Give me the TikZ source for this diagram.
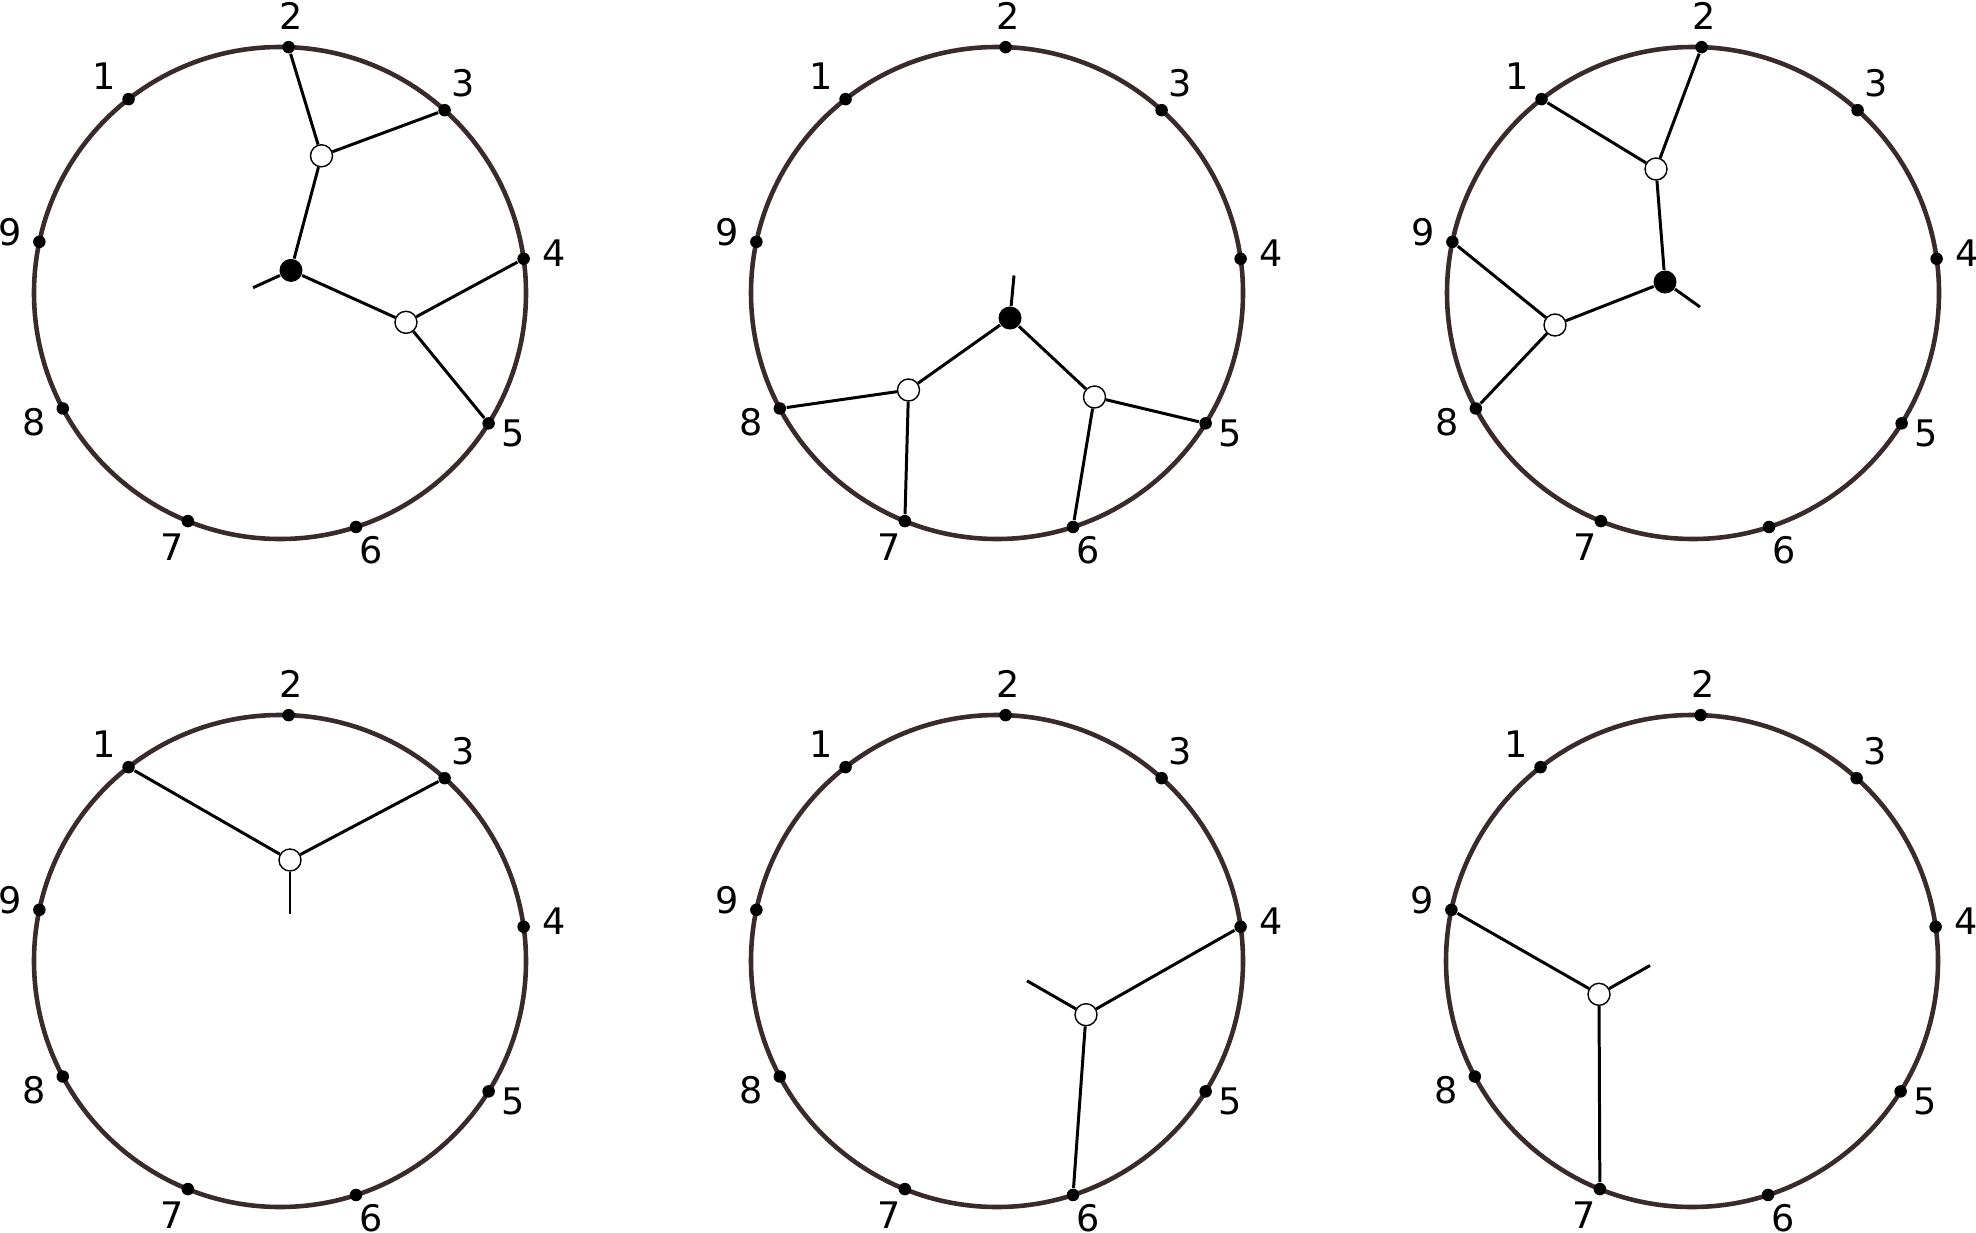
\documentclass[tikz,border=0pt]{standalone}
\usepackage{fontspec}
\setmainfont{DejaVu Sans}
\usetikzlibrary{calc}
\definecolor{rimcol}{RGB}{58,42,42}
\tikzset{
  rim/.style={draw=rimcol, line width=1.3pt},
  edge/.style={draw=black, line width=0.85pt},
  bdot/.style={circle, fill=black, inner sep=0pt, minimum size=0.125cm},
  bvert/.style={circle, fill=black, inner sep=0pt, minimum size=0.23cm},
  wvert/.style={circle, fill=white, draw=black, line width=0.4pt, inner sep=0pt, minimum size=0.22cm},
  lbl/.style={inner sep=0pt, font=\fontsize{10.4}{11}\selectfont},
}
\newcommand\clockface[2]{%
  \draw[rim] (#2) circle (246);
  \foreach \k/\la/\lr in {1/129/279, 2/87.7/277, 3/48.9/279, 4/8.2/277,
      5/-31.2/272, 6/-70.4/273, 7/246.9/276, 8/207.8/278, 9/167.4/277}{
    \pgfmathsetmacro\ang{168-40*\k}
    \node[bdot] (#1\k) at ($(#2)+(\ang:246)$) {};
    \node[lbl] (#1l\k) at ($(#2)+(\la:\lr)$) {\k};
  }%
}
\begin{document}
\begin{tikzpicture}[x=0.01cm, y=0.01cm]
\fill[white] (0,0) rectangle (1976,1232);
\useasboundingbox (0,0) rectangle (1976,1232);

\coordinate (cA) at (280,939);
\coordinate (cB) at (997,939);
\coordinate (cC) at (1693,939);
\coordinate (cD) at (280,271);
\coordinate (cE) at (997,271);
\coordinate (cF) at (1692,271);

\clockface{A}{cA}
\clockface{B}{cB}
\clockface{C}{cC}
\clockface{D}{cD}
\clockface{E}{cE}
\clockface{F}{cF}

% --- circle A
\node[bvert] (Ab) at (291,961.6) {};
\node[wvert] (Aw1) at (321.5,1076.2) {};
\node[wvert] (Aw2) at (406,909.7) {};
\coordinate (As) at (253,944.3);
\draw[edge] (Aw1) -- (A2);
\draw[edge] (Aw1) -- (A3);
\draw[edge] (Aw1) -- (Ab);
\draw[edge] (Ab) -- (Aw2);
\draw[edge] (Aw2) -- (A4);
\draw[edge] (Aw2) -- (A5);
\draw[edge] (Ab) -- (As);

% --- circle B
\node[bvert] (Bb) at (1010,914) {};
\node[wvert] (Bw1) at (908.5,842) {};
\node[wvert] (Bw2) at (1094.5,835) {};
\coordinate (Bs) at (1014,956.5);
\draw[edge] (Bb) -- (Bs);
\draw[edge] (Bb) -- (Bw1);
\draw[edge] (Bb) -- (Bw2);
\draw[edge] (Bw1) -- (B8);
\draw[edge] (Bw1) -- (B7);
\draw[edge] (Bw2) -- (B5);
\draw[edge] (Bw2) -- (B6);

% --- circle C
\node[bvert] (Cb) at (1665,950) {};
\node[wvert] (Cw1) at (1656,1063) {};
\node[wvert] (Cw2) at (1555,907) {};
\coordinate (Cs) at (1700,925);
\draw[edge] (Cw1) -- (C1);
\draw[edge] (Cw1) -- (C2);
\draw[edge] (Cw1) -- (Cb);
\draw[edge] (Cb) -- (Cw2);
\draw[edge] (Cw2) -- (C9);
\draw[edge] (Cw2) -- (C8);
\draw[edge] (Cb) -- (Cs);

% --- circle D
\node[wvert] (Dw) at (290,372) {};
\coordinate (Ds) at (290,318);
\draw[edge] (Dw) -- (D1);
\draw[edge] (Dw) -- (D3);
\draw[edge] (Dw) -- (Ds);

% --- circle E
\node[wvert] (Ew) at (1086,217.3) {};
\coordinate (Es) at (1027,251.2);
\draw[edge] (Ew) -- (E4);
\draw[edge] (Ew) -- (E6);
\draw[edge] (Ew) -- (Es);

% --- circle F
\node[wvert] (Fw) at (1599,237.7) {};
\coordinate (Fs) at (1650,266.5);
\draw[edge] (Fw) -- (F9);
\draw[edge] (Fw) -- (F7);
\draw[edge] (Fw) -- (Fs);
\end{tikzpicture}
\end{document}
